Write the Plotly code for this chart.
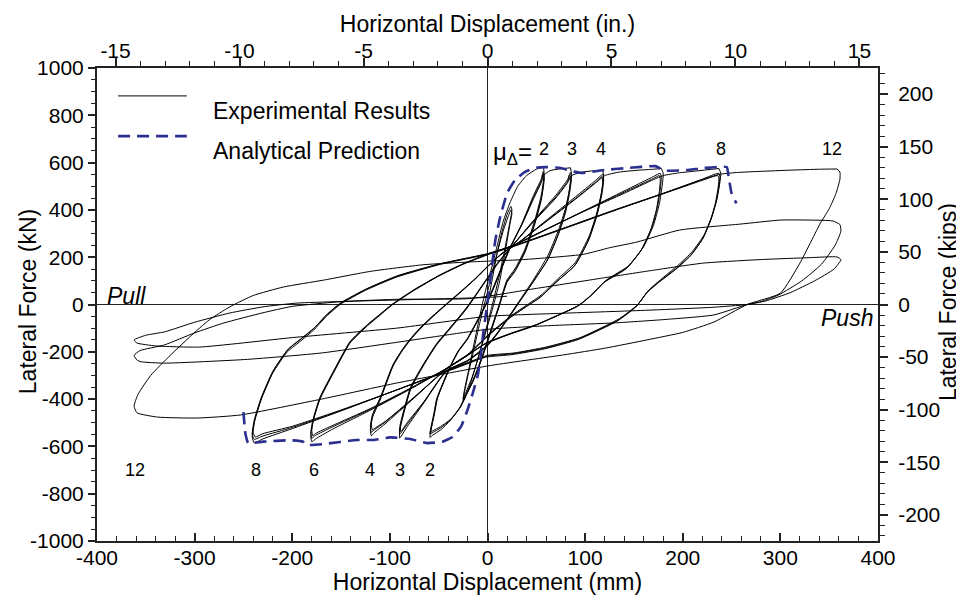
import plotly.graph_objects as go

# ---------------- data (mm, kN) ----------------
MM_PER_IN = 25.4
KN_PER_KIP = 4.44822
X_RANGE = [-400, 400]
Y_RANGE = [-1000, 1000]
X_TICKS = list(range(-400, 401, 100))
Y_TICKS = list(range(-1000, 1001, 200))
XIN_TICKS = list(range(-15, 16, 5))
YKIP_TICKS = list(range(-200, 201, 50))

# experimental hysteresis, split by ductility level (each continues the previous one)
mu1 = [(0,0),(5,110),(10,220),(15,310),(20,380),(24,415),(25,400),(23,350),(18,240),(12,120),(5,0),
       (0,-80),(-6,-170),(-12,-260),(-18,-340),(-23,-395),(-25,-410),(-24,-380),(-20,-300),(-14,-190),
       (-8,-80),(-2,20),(4,120),(10,220),(16,310),(21,370),(24,400),(25,385),(23,340),(18,220),(12,90),
       (5,-20),(-2,-120),(-9,-220),(-16,-310),(-22,-370),(-25,-400),(-24,-370),(-20,-290),(-14,-170),
       (-8,-50),(-2,60),(4,150)]

mu2 = [(4,150),(10,250),(16,350),(23,430),(31,500),(40,545),(50,572),(57,580),
       (58,550),(55,460),(48,350),(38,230),(28,150),(20,104),(12,0),(4,-100),(-4,-200),(-10,-270),(-15,-320),
       (-22,-380),(-28,-433),(-38,-490),(-48,-530),(-56,-552),(-59,-562),
       (-58,-532),(-55,-472),(-52,-404),(-45,-330),(-38,-263),(-30,-200),(-21,-150),(-8,-52),(2,30),(12,130),
       (22,230),(35,340),(47,460),(55,530),(57,562),
       (58,535),(55,448),(48,340),(38,222),(28,143),(20,98),(12,-5),(4,-105),(-4,-205),(-10,-275),(-15,-325),
       (-22,-383),(-28,-435),(-38,-488),(-48,-522),(-56,-541),(-59,-548),
       (-58,-520),(-55,-462),(-52,-398),(-45,-325),(-38,-258),(-30,-196),(-21,-146),(-8,-48),(2,34),(12,134),
       (22,233),(35,338),(47,452),(55,522),(57,552),
       (58,526),(55,440),(48,334),(38,217),(28,139),(20,94),(12,-8),(4,-108),(-4,-208),(-10,-278),(-15,-327),
       (-22,-385),(-28,-436),(-38,-486),(-48,-516),(-56,-534),(-58,-540),
       (-57,-512),(-54,-455),(-51,-392),(-44,-320),(-37,-254),(-29,-192),(-20,-142),(-7,-45),(3,37),(13,137),
       (23,236),(35,335),(47,445),(55,515),(58,548),(64,566),(72,572),(80,576),(85,578)]

mu3 = [(85,578),(86,553),(84,488),(80,408),(73,318),(62,208),(47,104),(35,30),(22,-50),(10,-120),(0,-170),
       (-20,-235),(-42,-280),(-65,-415),(-82,-515),(-90,-565),
       (-90,-535),(-87,-480),(-79,-361),(-70,-290),(-62,-234),(-52,-170),(-42,-121),(-25,-37),(-20,-10),
       (-10,50),(0,110),(10,170),(22,230),(45,345),(70,462),(82,528),(85,558),
       (86,534),(84,470),(80,390),(73,300),(62,192),(47,96),(35,24),(22,-55),(10,-125),(0,-175),(-20,-238),
       (-42,-282),(-65,-412),(-82,-505),(-90,-548),
       (-90,-520),(-87,-466),(-79,-352),(-70,-283),(-62,-228),(-52,-165),(-42,-116),(-25,-32),(-20,-5),
       (-10,54),(0,114),(10,174),(22,233),(45,343),(70,455),(82,520),(84,548),
       (85,524),(83,460),(79,382),(72,293),(61,186),(46,92),(34,20),(21,-58),(9,-128),(-1,-178),(-21,-240),
       (-43,-284),(-65,-410),(-82,-498),(-89,-538),
       (-89,-510),(-86,-458),(-78,-346),(-69,-278),(-61,-224),(-51,-161),(-41,-112),(-24,-28),(-19,-2),
       (-9,57),(1,117),(11,177),(23,236),(45,340),(70,450),(82,515),(86,545),(95,558),(105,564),(118,568)]

mu4 = [(118,568),(119,543),(117,478),(112,388),(104,288),(90,178),(71,104),(55,40),(41,0),(25,-45),(10,-95),
       (0,-130),(-20,-210),(-42,-270),(-75,-395),(-105,-505),(-116,-542),(-119,-555),
       (-120,-530),(-118,-480),(-110,-404),(-97,-263),(-88,-200),(-79,-150),(-67,-95),(-56,-52),(-42,0),
       (-28,50),(-12,110),(0,160),(15,215),(30,255),(60,355),(90,455),(110,522),(118,550),
       (119,526),(117,462),(112,374),(104,276),(90,168),(71,97),(55,34),(41,-5),(25,-50),(10,-99),(0,-134),
       (-20,-213),(-42,-273),(-75,-393),(-105,-498),(-116,-530),(-119,-540),
       (-120,-515),(-118,-468),(-110,-395),(-97,-256),(-88,-195),(-79,-145),(-67,-90),(-56,-48),(-42,3),
       (-28,53),(-12,112),(0,162),(15,217),(30,257),(60,352),(90,448),(110,515),(117,540),
       (118,516),(116,454),(111,366),(103,269),(89,163),(70,93),(54,30),(40,-8),(24,-53),(9,-102),(-1,-138),
       (-21,-216),(-43,-276),(-75,-391),(-104,-492),(-115,-522),(-118,-530),
       (-119,-505),(-117,-460),(-109,-388),(-96,-250),(-87,-190),(-78,-141),(-66,-87),(-55,-45),(-41,5),
       (-27,55),(-11,114),(1,164),(16,219),(31,259),(60,350),(90,445),(112,518),(120,545),(135,560),
       (155,568),(170,572),(178,575)]

mu6 = [(178,575),(180,555),(179,505),(176,425),(170,335),(160,245),(145,165),(122,104),(108,45),(95,0),
       (75,-40),(50,-85),(25,-120),(0,-160),(-20,-215),(-42,-270),(-80,-360),(-120,-447),(-160,-530),
       (-176,-568),(-180,-580),
       (-181,-555),(-179,-500),(-172,-404),(-158,-291),(-141,-164),(-124,-94),(-110,-45),(-97,0),(-75,60),
       (-50,120),(-25,170),(0,210),(25,245),(60,316),(100,398),(140,480),(170,541),(177,555),
       (178,538),(177,488),(174,410),(168,322),(158,234),(143,157),(120,97),(106,39),(93,-5),(73,-44),
       (48,-89),(23,-124),(-2,-164),(-22,-218),(-43,-273),(-80,-358),(-120,-443),(-160,-520),(-176,-553),
       (-180,-565),
       (-181,-542),(-179,-490),(-172,-396),(-158,-284),(-141,-158),(-124,-89),(-110,-41),(-97,3),(-75,63),
       (-50,122),(-25,172),(0,212),(25,248),(60,318),(100,398),(140,475),(170,533),(176,545),
       (177,528),(176,478),(173,401),(167,314),(157,227),(142,151),(119,92),(105,35),(92,-8),(72,-47),
       (47,-92),(22,-127),(-3,-168),(-23,-221),(-44,-276),(-80,-356),(-120,-440),(-160,-514),(-176,-545),
       (-179,-555),
       (-180,-532),(-178,-482),(-171,-390),(-157,-280),(-140,-155),(-123,-86),(-109,-38),(-96,5),(-74,65),
       (-49,124),(-24,174),(1,214),(26,250),(60,318),(100,396),(140,470),(170,528),(180,545),(195,556),
       (215,565),(237,575)]

mu8 = [(237,575),(239,555),(238,515),(235,445),(230,375),(222,295),(210,225),(195,165),(177,104),(165,60),
       (154,0),(135,-60),(95,-140),(60,-180),(27,-205),(0,-215),(-20,-245),(-45,-285),(-100,-372),
       (-150,-450),(-200,-525),(-230,-568),(-239,-585),
       (-241,-560),(-239,-500),(-232,-404),(-220,-290),(-205,-200),(-190,-150),(-178,-108),(-165,-50),
       (-151,0),(-125,60),(-93,116),(-50,168),(0,212),(30,250),(80,323),(130,397),(180,470),(220,530),
       (237,555),
       (238,538),(237,498),(234,430),(229,360),(221,282),(209,213),(194,155),(176,97),(164,54),(153,-5),
       (134,-65),(94,-144),(59,-184),(26,-208),(-1,-219),(-21,-249),(-46,-288),(-100,-372),(-150,-448),
       (-200,-520),(-230,-556),(-239,-570),
       (-241,-548),(-239,-490),(-232,-396),(-220,-283),(-205,-193),(-190,-143),(-178,-102),(-165,-45),
       (-151,4),(-125,63),(-93,119),(-50,170),(0,214),(30,252),(80,325),(130,398),(180,468),(220,525),
       (236,545),
       (237,528),(236,488),(233,421),(228,352),(220,275),(208,206),(193,149),(175,92),(163,49),(152,-10),
       (133,-70),(93,-148),(58,-188),(25,-212),(-2,-223),(-22,-253),(-47,-292),(-100,-372),(-150,-446),
       (-200,-515),(-230,-546),(-238,-560),
       (-240,-540),(-238,-482),(-231,-390),(-219,-278),(-204,-188),(-189,-138),(-177,-97),(-164,-40),
       (-150,8),(-124,66),(-92,122),(-49,172),(1,216),(31,254),(80,326),(130,400),(180,470),(220,528),
       (237,550),(255,558),(280,563),(310,568),(340,572),(358,573)]

mu12 = [(358,573),(361,560),(361,530),(357,470),(350,405),(341,344),(320,175),(300,48),(266,0),(232,-74),
        (200,-118),(163,-150),(120,-185),(78,-213),(0,-260),(-93,-332),(-170,-400),
        (-253,-467),(-297,-480),(-338,-476),(-359,-458),
        (-362,-430),(-358,-380),(-345,-300),(-325,-215),(-305,-137),(-285,-65),(-264,-10),(-240,38),
        (-209,74),(-168,103),(-120,140),(-66,168),(-18,180),(37,190),(98,212),(125,240),(153,264),
        (197,315),(259,340),(300,357),(330,357),(354,353),(361,338),
        (362,310),(356,250),(342,170),(322,100),(298,40),(280,12),(266,0),(232,-44),(180,-64),(129,-78),
        (60,-90),(0,-105),(-93,-160),(-170,-205),(-246,-232),(-331,-248),(-355,-242),(-359,-235),
        (-362,-215),(-356,-195),(-331,-171),(-300,-120),(-270,-78),(-230,-35),(-200,-8),(-150,12),
        (-93,22),(-18,25),(50,68),(118,112),(170,145),(221,175),(280,190),(330,198),(358,201),
        (362,190),(355,150),(335,100),(310,50),(285,15),(266,0),(230,-12),(177,-22),(146,-27),(70,-38),
        (0,-50),(-93,-100),(-200,-140),(-295,-180),(-340,-175),(-359,-163),
        (-362,-150),(-350,-130),(-331,-116),(-300,-75),(-264,-36),(-230,-10),(-195,6),(-93,19),(0,30),
        (20,35)]

# analytical prediction envelope
ana_x = [-250,-248,-245,-230,-202,-189,-186,-168,-134,-117,-100,-79,-62,-46,-36,-27,-20,-14,-10,-7,-4,0,
         4,8,13,20,28,38,50,60,75,88,98,118,143,172,177,180,204,221,245,247,250,255]
ana_y = [-455,-545,-586,-580,-574,-580,-594,-590,-573,-573,-562,-569,-586,-580,-560,-515,-440,-360,-300,
         -222,-108,6,146,272,370,470,525,560,578,581,577,562,556,568,577,585,575,566,568,577,581,540,470,428]

# ductility labels
mu_labels = ["2", "3", "4", "6", "8", "12"]
mu_label_x_pos = [58, 87, 116, 178, 239, 353]
mu_label_x_neg = [-59, -90, -120, -178, -237, -361]
MU_LABEL_Y_POS = 657
MU_LABEL_Y_NEG = -700

NAVY = "#2b2f8f"
FONT = "Liberation Sans, Arial, Helvetica, sans-serif"
AXC = "#222222"

fig = go.Figure()

for seg in [mu1, mu2, mu3, mu4, mu6, mu8, mu12]:
    fig.add_trace(go.Scatter(
        x=[p[0] for p in seg], y=[p[1] for p in seg], mode="lines",
        line=dict(color="black", width=1, shape="spline", smoothing=0.5),
        showlegend=False, hoverinfo="skip", name="Experimental Results"))

fig.add_trace(go.Scatter(
    x=ana_x, y=ana_y, mode="lines",
    line=dict(color=NAVY, width=2.6, dash="12px,7px", shape="spline", smoothing=0.4),
    showlegend=False, hoverinfo="skip", name="Analytical Prediction"))

# helper trace so the secondary (in., kips) axes exist
x2r = [X_RANGE[0] / MM_PER_IN, X_RANGE[1] / MM_PER_IN]
y2r = [Y_RANGE[0] / KN_PER_KIP, Y_RANGE[1] / KN_PER_KIP]
fig.add_trace(go.Scatter(x=x2r, y=y2r, xaxis="x2", yaxis="y2", mode="markers",
                         marker=dict(opacity=0), showlegend=False, hoverinfo="skip"))

lab_font = dict(size=18, color="black", family=FONT)
big_font = dict(size=23, color="black", family=FONT)

annotations = []
for lab, xp in zip(mu_labels, mu_label_x_pos):
    annotations.append(dict(x=xp, y=MU_LABEL_Y_POS, xref="x", yref="y", text=lab, showarrow=False,
                            font=lab_font))
for lab, xn in zip(mu_labels, mu_label_x_neg):
    annotations.append(dict(x=xn, y=MU_LABEL_Y_NEG, xref="x", yref="y", text=lab, showarrow=False,
                            font=lab_font))
annotations.append(dict(x=4, y=640, xref="x", yref="y", text="μ<sub>Δ</sub>=", showarrow=False,
                        xanchor="left", font=dict(size=24, color="black", family=FONT)))
annotations.append(dict(x=-392, y=36, xref="x", yref="y", text="<i>Pull</i>", showarrow=False,
                        xanchor="left", font=big_font))
annotations.append(dict(x=397, y=-57, xref="x", yref="y", text="<i>Push</i>", showarrow=False,
                        xanchor="right", font=big_font))
# legend texts
annotations.append(dict(x=0.146, y=0.941, xref="paper", yref="paper", text="Experimental Results",
                        showarrow=False, xanchor="left", font=big_font))
annotations.append(dict(x=0.146, y=0.856, xref="paper", yref="paper", text="Analytical Prediction",
                        showarrow=False, xanchor="left", font=big_font))
# vertical axis titles
annotations.append(dict(x=-0.0883, y=0.505, xref="paper", yref="paper", text="Lateral Force (kN)",
                        textangle=-90, showarrow=False, xanchor="center", yanchor="middle", font=big_font))
annotations.append(dict(x=1.0896, y=0.505, xref="paper", yref="paper", text="Lateral Force (kips)",
                        textangle=-90, showarrow=False, xanchor="center", yanchor="middle", font=big_font))

shapes = [
    dict(type="line", xref="paper", yref="paper", x0=0.027, x1=0.115, y0=0.941, y1=0.941,
         line=dict(color="black", width=1)),
    dict(type="line", xref="paper", yref="paper", x0=0.027, x1=0.115, y0=0.856, y1=0.856,
         line=dict(color=NAVY, width=2.6, dash="12px,7px")),
]

tick_font = dict(size=21, color="black", family=FONT)
title_font = dict(size=23, color="black", family=FONT)

fig.update_layout(
    width=956, height=596,
    margin=dict(l=89, r=86, t=60, b=63),
    paper_bgcolor="white", plot_bgcolor="white",
    font=dict(family=FONT, color="black"),
    showlegend=False,
    annotations=annotations, shapes=shapes,
    xaxis=dict(range=X_RANGE, tickmode="array", tickvals=X_TICKS, ticktext=[str(v) for v in X_TICKS],
               ticks="inside", ticklen=8, tickwidth=1.5, tickcolor=AXC, ticklabelstandoff=-3,
               minor=dict(dtick=20, tick0=0, ticks="inside", ticklen=5, tickwidth=1.2, tickcolor=AXC),
               showline=True, linecolor=AXC, linewidth=2, mirror=False,
               zeroline=True, zerolinecolor=AXC, zerolinewidth=1.3, showgrid=False,
               tickfont=tick_font, automargin=False,
               title=dict(text="Horizontal Displacement (mm)", font=title_font, standoff=4)),
    yaxis=dict(range=Y_RANGE, tickmode="array", tickvals=Y_TICKS, ticktext=[str(v) for v in Y_TICKS],
               ticks="outside", ticklen=7, tickwidth=1.5, tickcolor=AXC,
               minor=dict(dtick=50, tick0=0, ticks="outside", ticklen=4, tickwidth=1.2, tickcolor=AXC),
               showline=True, linecolor=AXC, linewidth=2,
               zeroline=True, zerolinecolor=AXC, zerolinewidth=1.3, showgrid=False,
               tickfont=tick_font, automargin=False),
    xaxis2=dict(range=x2r, overlaying="x", side="top", anchor="y",
                tickmode="array", tickvals=XIN_TICKS, ticktext=[str(v) for v in XIN_TICKS],
                ticks="outside", ticklen=8, tickwidth=1.5, tickcolor=AXC, ticklabelstandoff=-8,
                minor=dict(dtick=1, tick0=0, ticks="outside", ticklen=5, tickwidth=1.2, tickcolor=AXC),
                showline=True, linecolor=AXC, linewidth=2, zeroline=False, showgrid=False,
                tickfont=tick_font, automargin=False,
                title=dict(text="Horizontal Displacement (in.)", font=title_font, standoff=0)),
    yaxis2=dict(range=y2r, overlaying="y", side="right", anchor="x",
                tickmode="array", tickvals=YKIP_TICKS, ticktext=[str(v) for v in YKIP_TICKS],
                ticks="outside", ticklen=8, tickwidth=1.5, tickcolor=AXC, ticklabelstandoff=6,
                minor=dict(dtick=10, tick0=0, ticks="outside", ticklen=5, tickwidth=1.2, tickcolor=AXC),
                showline=True, linecolor=AXC, linewidth=2, zeroline=False, showgrid=False,
                tickfont=tick_font, automargin=False),
)

fig.write_html("out.html")
